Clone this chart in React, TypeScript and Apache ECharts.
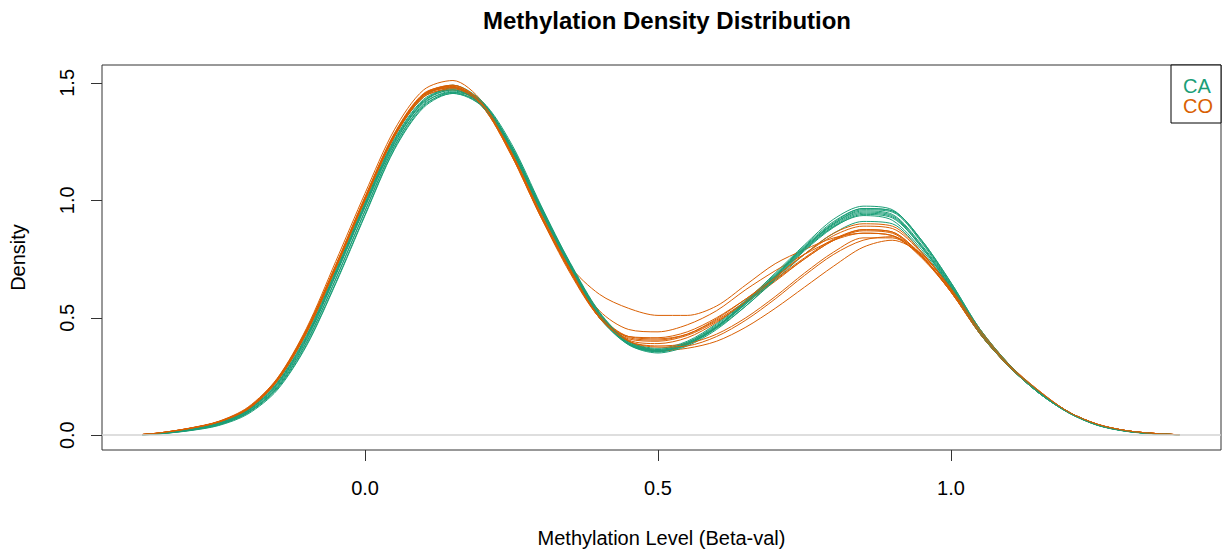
import React, { useEffect, useRef } from "react";
import * as echarts from "echarts";

const TITLE = "Methylation Density Distribution";
const X_LABEL = "Methylation Level (Beta-val)";
const Y_LABEL = "Density";
const GROUPS = ["CA", "CO"];
const COLORS = ["#1B9E77", "#D95F02"];
const X_TICKS = [0, 0.5, 1.0];
const Y_TICKS = [0, 0.5, 1.0, 1.5];

// Beta-value grid on which each density curve was read
const BETA = [-0.38, -0.35, -0.3, -0.25, -0.2, -0.15, -0.1, -0.05, 0.0, 0.05, 0.1, 0.15, 0.2, 0.25, 0.3, 0.35, 0.4, 0.45, 0.5, 0.55, 0.6, 0.65, 0.7, 0.75, 0.8, 0.85, 0.9, 0.95, 1.0, 1.05, 1.1, 1.15, 1.2, 1.25, 1.3, 1.35, 1.39];

// CA samples
const CA1 = [0.002,0.008,0.024,0.05,0.104,0.216,0.415,0.69,0.98,1.25,1.42,1.47,1.41,1.22,0.96,0.72,0.51,0.39,0.36,0.39,0.46,0.56,0.67,0.79,0.89,0.945,0.93,0.8,0.63,0.43,0.29,0.18,0.097,0.043,0.017,0.006,0.002];
const CA2 = [0.001,0.006,0.02,0.043,0.094,0.197,0.385,0.65,0.94,1.22,1.4,1.46,1.42,1.24,0.98,0.73,0.52,0.39,0.355,0.385,0.46,0.57,0.69,0.81,0.92,0.975,0.96,0.83,0.65,0.45,0.3,0.185,0.1,0.045,0.018,0.006,0.002];
const CA3 = [0.002,0.008,0.026,0.053,0.109,0.226,0.435,0.71,1.0,1.27,1.44,1.49,1.42,1.22,0.95,0.71,0.5,0.385,0.355,0.385,0.455,0.55,0.66,0.77,0.86,0.91,0.9,0.78,0.62,0.43,0.29,0.18,0.097,0.043,0.017,0.006,0.002];
const CA4 = [0.002,0.007,0.022,0.047,0.099,0.207,0.405,0.68,0.97,1.24,1.42,1.48,1.42,1.23,0.97,0.73,0.52,0.4,0.365,0.395,0.47,0.57,0.68,0.8,0.9,0.955,0.94,0.81,0.64,0.44,0.295,0.18,0.098,0.044,0.017,0.006,0.002];
const CA5 = [0.002,0.008,0.023,0.049,0.102,0.212,0.41,0.685,0.975,1.245,1.415,1.46,1.4,1.21,0.955,0.715,0.505,0.385,0.35,0.38,0.45,0.55,0.665,0.785,0.885,0.94,0.925,0.8,0.63,0.435,0.29,0.18,0.096,0.042,0.016,0.005,0.002];
const CA6 = [0.001,0.006,0.019,0.041,0.09,0.192,0.38,0.645,0.935,1.215,1.395,1.455,1.41,1.23,0.975,0.735,0.525,0.4,0.37,0.4,0.475,0.575,0.685,0.805,0.91,0.965,0.955,0.825,0.645,0.445,0.3,0.185,0.1,0.045,0.018,0.006,0.002];
const CA7 = [0.002,0.008,0.025,0.051,0.106,0.221,0.425,0.7,0.99,1.26,1.43,1.475,1.415,1.225,0.965,0.725,0.51,0.39,0.36,0.39,0.46,0.565,0.675,0.795,0.895,0.95,0.935,0.805,0.635,0.435,0.29,0.18,0.097,0.043,0.017,0.006,0.002];
const CA8 = [0.002,0.007,0.021,0.045,0.097,0.202,0.395,0.665,0.955,1.23,1.41,1.465,1.415,1.23,0.97,0.725,0.515,0.395,0.365,0.395,0.465,0.565,0.675,0.795,0.9,0.96,0.95,0.82,0.64,0.44,0.295,0.182,0.099,0.044,0.017,0.006,0.002];
const CA9 = [0.002,0.008,0.024,0.051,0.105,0.219,0.42,0.695,0.985,1.255,1.425,1.47,1.405,1.215,0.958,0.718,0.508,0.388,0.357,0.387,0.458,0.558,0.668,0.79,0.888,0.935,0.915,0.79,0.625,0.432,0.29,0.18,0.097,0.043,0.017,0.006,0.002];
const CA10 = [0.001,0.006,0.021,0.045,0.096,0.202,0.395,0.665,0.955,1.23,1.405,1.455,1.4,1.22,0.965,0.73,0.52,0.395,0.36,0.39,0.462,0.565,0.68,0.8,0.905,0.965,0.955,0.83,0.65,0.45,0.3,0.185,0.1,0.045,0.018,0.006,0.002];

// CO samples
const CO1 = [0.003,0.01,0.029,0.057,0.114,0.237,0.445,0.72,1.01,1.28,1.45,1.48,1.4,1.19,0.93,0.7,0.51,0.42,0.41,0.43,0.49,0.57,0.66,0.75,0.83,0.87,0.86,0.76,0.61,0.43,0.29,0.185,0.1,0.046,0.019,0.007,0.002];
const CO2 = [0.003,0.01,0.03,0.059,0.119,0.242,0.455,0.74,1.03,1.3,1.47,1.51,1.42,1.2,0.93,0.69,0.5,0.41,0.4,0.425,0.485,0.565,0.655,0.75,0.83,0.875,0.865,0.765,0.615,0.435,0.295,0.185,0.1,0.046,0.019,0.007,0.002];
const CO3 = [0.003,0.009,0.028,0.055,0.109,0.232,0.435,0.71,1.0,1.27,1.44,1.47,1.4,1.2,0.95,0.72,0.6,0.54,0.51,0.51,0.55,0.64,0.73,0.79,0.84,0.86,0.85,0.76,0.61,0.43,0.29,0.185,0.1,0.046,0.019,0.007,0.002];
const CO4 = [0.003,0.009,0.027,0.055,0.109,0.232,0.44,0.715,1.005,1.275,1.445,1.48,1.41,1.21,0.95,0.71,0.5,0.4,0.36,0.37,0.4,0.46,0.54,0.63,0.72,0.8,0.83,0.77,0.63,0.45,0.3,0.19,0.1,0.047,0.019,0.007,0.002];
const CO5 = [0.003,0.01,0.029,0.058,0.116,0.24,0.45,0.725,1.015,1.285,1.455,1.485,1.4,1.19,0.93,0.71,0.53,0.45,0.44,0.47,0.53,0.62,0.7,0.77,0.83,0.86,0.85,0.755,0.61,0.43,0.29,0.185,0.1,0.046,0.019,0.007,0.002];
const CO6 = [0.003,0.009,0.028,0.056,0.112,0.234,0.442,0.717,1.007,1.277,1.447,1.485,1.41,1.2,0.935,0.7,0.505,0.415,0.405,0.43,0.495,0.58,0.675,0.77,0.85,0.89,0.88,0.775,0.62,0.435,0.29,0.185,0.1,0.046,0.019,0.007,0.002];
const CO7 = [0.003,0.01,0.029,0.057,0.114,0.237,0.445,0.72,1.01,1.28,1.45,1.49,1.415,1.205,0.94,0.7,0.5,0.4,0.38,0.39,0.43,0.5,0.59,0.69,0.78,0.84,0.84,0.76,0.615,0.44,0.295,0.188,0.1,0.046,0.019,0.007,0.002];
const CO8 = [0.003,0.009,0.027,0.054,0.109,0.23,0.435,0.71,1.0,1.27,1.44,1.475,1.405,1.2,0.94,0.705,0.51,0.42,0.415,0.44,0.5,0.58,0.665,0.755,0.835,0.875,0.865,0.765,0.612,0.432,0.29,0.185,0.1,0.046,0.019,0.007,0.002];
const CO9 = [0.003,0.009,0.028,0.056,0.113,0.235,0.443,0.718,1.008,1.278,1.448,1.48,1.405,1.195,0.935,0.7,0.505,0.405,0.39,0.415,0.48,0.57,0.67,0.77,0.86,0.9,0.89,0.78,0.62,0.435,0.292,0.185,0.1,0.046,0.019,0.007,0.002];
const CO10 = [0.003,0.01,0.029,0.057,0.115,0.238,0.447,0.722,1.012,1.282,1.452,1.49,1.41,1.2,0.935,0.695,0.5,0.4,0.375,0.38,0.42,0.49,0.58,0.68,0.77,0.83,0.845,0.77,0.625,0.445,0.298,0.19,0.1,0.047,0.019,0.007,0.002];

const CA_SAMPLES = [CA1, CA2, CA3, CA4, CA5, CA6, CA7, CA8, CA9, CA10];
const CO_SAMPLES = [CO1, CO2, CO3, CO4, CO5, CO6, CO7, CO8, CO9, CO10];

const FONT = "'Liberation Sans', Arial, Helvetica, sans-serif";

export default function App() {
  const ref = useRef<HTMLDivElement>(null);

  useEffect(() => {
    if (!ref.current) return;
    const chart = echarts.init(ref.current, undefined, { renderer: "svg" });

    const series: any[] = [];
    series.push({
      name: "zero",
      type: "line",
      data: [],
      silent: true,
      z: 1,
      markLine: {
        silent: true,
        symbol: "none",
        label: { show: false },
        lineStyle: { color: "#d3d3d3", width: 1.5, type: "solid" },
        data: [{ yAxis: 0 }],
      },
    });
    const n = Math.max(CA_SAMPLES.length, CO_SAMPLES.length);
    for (let k = 0; k < n; k++) {
      [CA_SAMPLES, CO_SAMPLES].forEach((samples, g) => {
        const s = samples[k];
        if (!s) return;
        series.push({
          name: GROUPS[g] + "_" + (k + 1),
          type: "line",
          data: BETA.map((b, i) => [b, s[i]]),
          showSymbol: false,
          smooth: 0.3,
          z: 2,
          lineStyle: { color: COLORS[g], width: 1 },
          itemStyle: { color: COLORS[g] },
        });
      });
    }

    chart.setOption({
      animation: false,
      backgroundColor: "#ffffff",
      title: {
        text: TITLE,
        left: 662,
        top: 3,
        textAlign: "center",
        textStyle: { fontFamily: FONT, fontSize: 24, fontWeight: "bold", color: "#000" },
      },
      grid: {
        left: 102,
        right: 2,
        top: 65,
        bottom: 98,
        show: true,
        borderColor: "#333",
        borderWidth: 1,
        containLabel: false,
      },
      xAxis: {
        type: "value",
        min: -0.449,
        max: 1.461,
        name: X_LABEL,
        nameLocation: "middle",
        nameGap: 78,
        nameTextStyle: { fontFamily: FONT, fontSize: 20, color: "#000" },
        axisLine: { show: false, onZero: false },
        splitLine: { show: false },
        axisTick: { show: true, length: 11, customValues: X_TICKS, lineStyle: { color: "#333" } },
        axisLabel: {
          customValues: X_TICKS,
          margin: 28,
          fontFamily: FONT,
          fontSize: 20,
          color: "#000",
          formatter: (v: number) => v.toFixed(1),
        },
      },
      yAxis: {
        type: "value",
        min: -0.063,
        max: 1.576,
        name: Y_LABEL,
        nameLocation: "middle",
        nameGap: 74,
        nameRotate: 90,
        nameTextStyle: { fontFamily: FONT, fontSize: 20, color: "#000" },
        axisLine: { show: false, onZero: false },
        splitLine: { show: false },
        axisTick: { show: true, length: 11, customValues: Y_TICKS, lineStyle: { color: "#333" } },
        axisLabel: {
          customValues: Y_TICKS,
          rotate: 90,
          margin: 25,
          fontFamily: FONT,
          fontSize: 20,
          color: "#000",
          formatter: (v: number) => v.toFixed(1),
        },
      },
      graphic: [
        {
          type: "rect",
          z: 100,
          shape: { x: 1171, y: 65, width: 50, height: 58 },
          style: { fill: "#fff", stroke: "#000", lineWidth: 1 },
        },
        {
          type: "text",
          z: 101,
          x: 1183,
          y: 86,
          style: { text: GROUPS[0], fill: COLORS[0], fontSize: 20, fontFamily: FONT, verticalAlign: "middle", align: "left" },
        },
        {
          type: "text",
          z: 101,
          x: 1183,
          y: 106,
          style: { text: GROUPS[1], fill: COLORS[1], fontSize: 20, fontFamily: FONT, verticalAlign: "middle", align: "left" },
        },
      ],
      series,
    });

    return () => chart.dispose();
  }, []);

  return (
    <div
      ref={ref}
      style={{ position: "absolute", left: 0, top: 0, width: 1223, height: 553, background: "#fff" }}
    />
  );
}
